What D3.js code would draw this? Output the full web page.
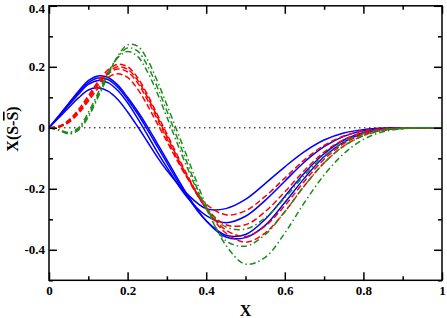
<!DOCTYPE html>
<html><head><meta charset="utf-8">
<script src="https://cdn.jsdelivr.net/npm/d3@7"></script>
<style>body{margin:0;background:#fff}svg{display:block}</style>
</head><body>
<svg id="c" width="447" height="318"></svg>
<script>
const xs = [0,0.025,0.05,0.075,0.1,0.125,0.15,0.175,0.2,0.225,0.25,0.275,0.3,0.35,0.4,0.45,0.5,0.55,0.6,0.65,0.7,0.75,0.8,0.85,0.9,0.95,1.0];
const blue1 = [0,0.04,0.08,0.12,0.155,0.17,0.165,0.14,0.1,0.055,0.005,-0.05,-0.105,-0.215,-0.305,-0.358,-0.36,-0.32,-0.245,-0.165,-0.095,-0.047,-0.018,-0.005,-0.001,0,0];
const blue2 = [0,0.038,0.077,0.115,0.148,0.163,0.158,0.133,0.093,0.047,-0.005,-0.06,-0.115,-0.222,-0.305,-0.352,-0.35,-0.3,-0.225,-0.148,-0.085,-0.04,-0.015,-0.004,-0.001,0,0];
const blue3 = [0,0.037,0.074,0.11,0.142,0.155,0.148,0.122,0.082,0.032,-0.022,-0.078,-0.13,-0.225,-0.288,-0.311,-0.29,-0.238,-0.175,-0.112,-0.062,-0.028,-0.01,-0.003,0,0,0];
const blue4 = [0,0.033,0.066,0.098,0.124,0.131,0.12,0.093,0.052,0.005,-0.045,-0.095,-0.14,-0.215,-0.265,-0.265,-0.235,-0.183,-0.128,-0.078,-0.04,-0.017,-0.006,-0.001,0,0,0];
const red1 = [0,0.005,0.025,0.06,0.105,0.152,0.19,0.208,0.2,0.165,0.11,0.045,-0.02,-0.15,-0.265,-0.345,-0.375,-0.345,-0.275,-0.19,-0.115,-0.06,-0.025,-0.008,-0.002,0,0];
const red2 = [0,0.004,0.022,0.055,0.098,0.145,0.182,0.2,0.192,0.157,0.102,0.038,-0.028,-0.155,-0.265,-0.335,-0.356,-0.322,-0.255,-0.175,-0.103,-0.052,-0.021,-0.007,-0.002,0,0];
const red3 = [0,0.004,0.02,0.052,0.094,0.14,0.177,0.193,0.183,0.148,0.093,0.03,-0.035,-0.16,-0.262,-0.318,-0.318,-0.275,-0.21,-0.14,-0.08,-0.039,-0.015,-0.005,-0.001,0,0];
const red4 = [0,0.003,0.017,0.047,0.087,0.13,0.165,0.177,0.165,0.128,0.075,0.015,-0.045,-0.16,-0.25,-0.285,-0.272,-0.225,-0.165,-0.105,-0.058,-0.027,-0.01,-0.003,0,0,0];
const green1 = [0,-0.008,-0.02,-0.008,0.035,0.1,0.17,0.235,0.272,0.268,0.225,0.155,0.075,-0.09,-0.255,-0.385,-0.447,-0.425,-0.345,-0.245,-0.155,-0.085,-0.038,-0.013,-0.003,0,0];
const green2 = [0,-0.007,-0.018,-0.004,0.042,0.107,0.175,0.232,0.262,0.252,0.205,0.135,0.055,-0.11,-0.265,-0.37,-0.388,-0.35,-0.275,-0.19,-0.115,-0.06,-0.026,-0.009,-0.002,0,0];
const green3 = [0,-0.006,-0.015,0,0.05,0.115,0.18,0.23,0.25,0.235,0.185,0.115,0.035,-0.125,-0.26,-0.325,-0.332,-0.295,-0.23,-0.155,-0.093,-0.047,-0.019,-0.006,-0.001,0,0];
const xTicks = [0,0.2,0.4,0.6,0.8,1];
const xTickLabels = ["0","0.2","0.4","0.6","0.8","1"];
const yTicks = [-0.4,-0.2,0,0.2,0.4];
const yTickLabels = ["-0.4","-0.2","0","0.2","0.4"];
const xMinor = [0.1,0.3,0.5,0.7,0.9];
const yMinor = [-0.5,-0.3,-0.1,0.1,0.3];

const series = [
  {v: blue1, c:"#0000ff", d:null},
  {v: blue2, c:"#0000ff", d:null},
  {v: blue3, c:"#0000ff", d:null},
  {v: blue4, c:"#0000ff", d:null},
  {v: red1, c:"#ff0000", d:"6,3"},
  {v: red2, c:"#ff0000", d:"6,3"},
  {v: red3, c:"#ff0000", d:"6,3"},
  {v: red4, c:"#ff0000", d:"6,3"},
  {v: green1, c:"#1c8c1c", d:"6,3,1.5,3"},
  {v: green2, c:"#1c8c1c", d:"6,3,1.5,3"},
  {v: green3, c:"#1c8c1c", d:"6,3,1.5,3"}
];

(function(){
const svg = d3.select("#c");
const L=49, R=442, T=5.8, B=280.3;
const x = d3.scaleLinear().domain([0,1]).range([L,R]);
const y = d3.scaleLinear().domain([-0.5,0.4]).range([B,T]);
const font = "'Liberation Serif','Times New Roman',serif";

svg.append("line").attr("x1",x(0)).attr("x2",x(1)).attr("y1",y(0)).attr("y2",y(0))
  .attr("stroke","#000").attr("stroke-width",1).attr("stroke-dasharray","1.5,3.5");

svg.append("clipPath").attr("id","pc").append("rect")
  .attr("x",L).attr("y",T).attr("width",R-L).attr("height",B-T);

const line = d3.line().x((d,i)=>x(xs[i])).y(d=>y(d)).curve(d3.curveCatmullRom.alpha(0.5));
const g = svg.append("g").attr("clip-path","url(#pc)");
series.forEach(s=>{
  g.append("path").attr("d",line(s.v)).attr("fill","none").attr("stroke",s.c)
   .attr("stroke-width",1.5).attr("stroke-dasharray",s.d);
});

svg.append("g").attr("transform",`translate(0,${B})`)
  .call(d3.axisBottom(x).tickValues(xTicks).tickSizeInner(-8).tickSizeOuter(0).tickPadding(5).tickFormat((d,i)=>xTickLabels[i]));
svg.append("g").attr("transform",`translate(0,${B})`)
  .call(d3.axisBottom(x).tickValues(xMinor).tickSize(-4).tickFormat(""));
svg.append("g").attr("transform",`translate(0,${T})`)
  .call(d3.axisTop(x).tickValues(xTicks).tickSizeInner(-8).tickSizeOuter(0).tickFormat(""));
svg.append("g").attr("transform",`translate(0,${T})`)
  .call(d3.axisTop(x).tickValues(xMinor).tickSize(-4).tickFormat(""));
const leftAx = svg.append("g").attr("transform",`translate(${L},0)`)
  .call(d3.axisLeft(y).tickValues(yTicks).tickSizeInner(-8).tickSizeOuter(0).tickPadding(4).tickFormat((d,i)=>yTickLabels[i]));
svg.append("g").attr("transform",`translate(${L},0)`)
  .call(d3.axisLeft(y).tickValues(yMinor).tickSize(-4).tickFormat(""));
svg.append("g").attr("transform",`translate(${R},0)`)
  .call(d3.axisRight(y).tickValues(yTicks).tickSizeInner(-8).tickSizeOuter(0).tickFormat(""));
svg.append("g").attr("transform",`translate(${R},0)`)
  .call(d3.axisRight(y).tickValues(yMinor).tickSize(-4).tickFormat(""));

svg.selectAll(".domain").remove();
svg.selectAll(".tick line").attr("stroke","#000").attr("stroke-width",1.5);
svg.selectAll(".tick text").attr("font-family",font).attr("font-weight","bold").attr("font-size",13).attr("fill","#000");
leftAx.selectAll(".tick text").filter(d=>d===0.4).attr("dy","0.5em");

svg.append("rect").attr("x",L).attr("y",T).attr("width",R-L).attr("height",B-T)
  .attr("fill","none").attr("stroke","#000").attr("stroke-width",1.5);

svg.append("text").attr("x",(L+R)/2).attr("y",316).attr("text-anchor","middle")
  .attr("font-family",font).attr("font-weight","bold").attr("font-size",16).text("X");

const yl = svg.append("text").attr("transform","translate(18,129) rotate(-90)").attr("text-anchor","middle")
  .attr("font-family",font).attr("font-weight","bold").attr("font-size",16);
yl.append("tspan").text("X(S-");
yl.append("tspan").attr("text-decoration","overline").text("S");
yl.append("tspan").text(")");
})();
</script>
</body></html>
